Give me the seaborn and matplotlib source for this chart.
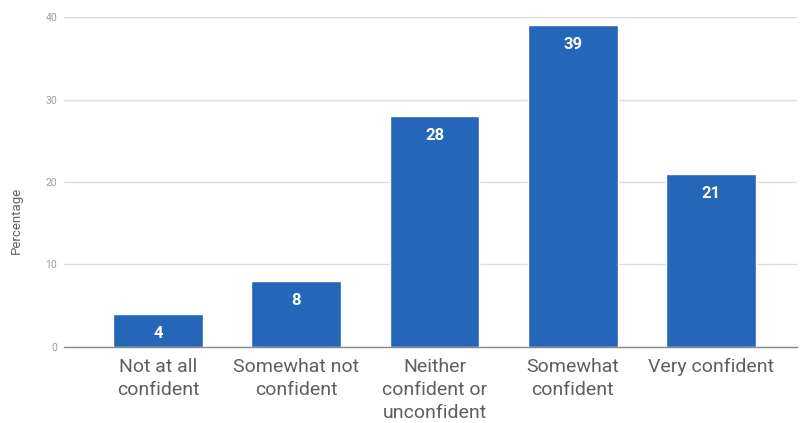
import matplotlib
matplotlib.use("Agg")
import matplotlib.pyplot as plt
import seaborn as sns
import pandas as pd

categories = ["Not at all\nconfident", "Somewhat not\nconfident", "Neither\nconfident or\nunconfident",
              "Somewhat\nconfident", "Very confident"]
values = [4, 8, 28, 39, 21]
yticks = [0, 10, 20, 30, 40]

sns.set_theme(style="white")
plt.rcParams['font.family'] = ['Roboto', 'DejaVu Sans']

df = pd.DataFrame({"cat": categories, "val": values})

fig = plt.figure(figsize=(8, 4.23), dpi=100)
ax = fig.add_axes([0.08, 0.1797, 0.916, 0.7801])
sns.barplot(data=df, x="cat", y="val", color="#2466B7", saturation=1, width=0.65, ax=ax, zorder=3)

ax.set_ylim(0, 40)
ax.set_xlim(-0.68, 4.62)
ax.set_yticks(yticks)
ax.set_yticklabels([str(t) for t in yticks], fontsize=7.5, color="#9e9e9e")
ax.yaxis.grid(True, color="#dddddd", linewidth=1, zorder=0)
ax.tick_params(axis="y", length=0, pad=5)
ax.tick_params(axis="x", length=0, pad=8, labelsize=14, labelcolor="#5f5f5f")
for lbl in ax.get_xticklabels():
    lbl.set_linespacing(1.36)
    lbl.set_verticalalignment("top")
for s in ["top", "right", "left"]:
    ax.spines[s].set_visible(False)
ax.spines["bottom"].set_color("#8a8a8a")
ax.spines["bottom"].set_linewidth(1)
ax.spines["bottom"].set_zorder(4)
ax.set_xlabel("")
ax.set_ylabel("Percentage", fontsize=9.5, color="#616161")
ax.yaxis.set_label_coords(-0.056, 0.385)

for container in ax.containers:
    ax.bar_label(container, labels=[str(v) for v in values], label_type="edge",
                 padding=-19.5, color="white", fontsize=12, fontweight="bold")

fig.savefig("out.png", dpi=100)
